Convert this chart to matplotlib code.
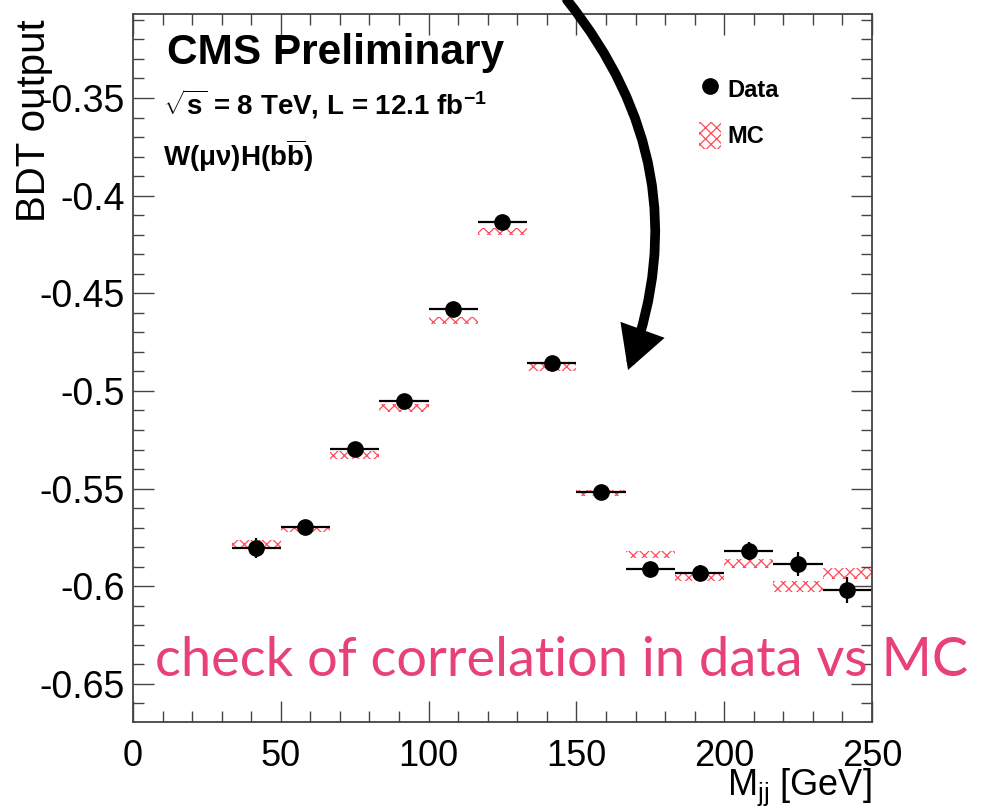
import matplotlib
matplotlib.use('Agg')
import matplotlib.pyplot as plt
from matplotlib.lines import Line2D
from matplotlib.patches import Patch, FancyArrowPatch, ArrowStyle
from matplotlib.ticker import MultipleLocator, FuncFormatter
import numpy as np

# Bins in M_jj [GeV]
bin_centers = [41.67, 58.33, 75.0, 91.67, 108.33, 125.0, 141.67, 158.33, 175.0, 191.67, 208.33, 225.0, 241.67]
bin_halfwidth = 8.333

# Data: mean BDT output per bin
data_y = [-0.5804, -0.5697, -0.5297, -0.5051, -0.4580, -0.4135, -0.4857, -0.5517, -0.5912, -0.5932, -0.5820, -0.5886, -0.6019]
data_err = [0.005, 0.002, 0.002, 0.002, 0.002, 0.002, 0.002, 0.002, 0.002, 0.004, 0.0045, 0.006, 0.0065]

# MC: mean BDT output per bin with uncertainty band
mc_y = [-0.5784, -0.5707, -0.5328, -0.5087, -0.4639, -0.4184, -0.4882, -0.5522, -0.5837, -0.5953, -0.5884, -0.6001, -0.5937]
mc_err = [0.0022, 0.0016, 0.0020, 0.0020, 0.0018, 0.0018, 0.0018, 0.0016, 0.0018, 0.0020, 0.0024, 0.0026, 0.0028]

y_ticks = [-0.65, -0.6, -0.55, -0.5, -0.45, -0.4, -0.35]
x_ticks = [0, 50, 100, 150, 200, 250]

plt.rcParams['font.family'] = ['Liberation Sans', 'DejaVu Sans']
plt.rcParams['mathtext.fontset'] = 'custom'
plt.rcParams['mathtext.rm'] = 'Liberation Sans'
plt.rcParams['mathtext.it'] = 'Liberation Sans:italic'
plt.rcParams['mathtext.bf'] = 'Liberation Sans:bold'
plt.rcParams['hatch.linewidth'] = 0.9

MC_RED = '#ff4a5a'


def main():
    fig = plt.figure(figsize=(9.85, 8.11), dpi=100)
    ax = fig.add_axes([133 / 985, 1 - 722 / 811, 739 / 985, 708 / 811])

    # MC bands
    mc_lo = np.array(mc_y) - np.array(mc_err)
    ax.bar(bin_centers, 2 * np.array(mc_err), bottom=mc_lo, width=2 * bin_halfwidth,
           fill=False, hatch='xxx', edgecolor=MC_RED, linewidth=0)

    # Data points
    ax.errorbar(bin_centers, data_y, xerr=bin_halfwidth, yerr=data_err, fmt='o',
                color='black', ms=11, elinewidth=1.6, capsize=0)

    ax.set_xlim(0, 250)
    ax.set_ylim(-0.6695, -0.307)
    ax.set_xticks(x_ticks)
    ax.set_yticks(y_ticks)
    ax.xaxis.set_minor_locator(MultipleLocator(10))
    ax.yaxis.set_minor_locator(MultipleLocator(0.01))
    ax.yaxis.set_major_formatter(FuncFormatter(lambda v, p: '%g' % round(v, 2)))

    # ROOT style ticks
    ax.tick_params(which='both', direction='in', top=True, right=True, color='#444444', width=1.0)
    ax.tick_params(which='major', length=15)
    ax.tick_params(which='minor', length=8)
    ax.tick_params(axis='x', which='major', labelsize=26, pad=12)
    ax.tick_params(axis='y', which='major', labelsize=27, pad=6)
    for pos in ['right', 'top', 'bottom', 'left']:
        ax.spines[pos].set_color('#444444')
        ax.spines[pos].set_linewidth(1.3)

    ax.set_xlabel(r'M$_{\rm jj}$ [GeV]', fontsize=26, loc='right', labelpad=-5)
    ax.set_ylabel('BDT output', fontsize=29, loc='top')
    ax.yaxis.set_label_coords(-0.108, 0.992)

    # Titles
    ax.text(0.046, 0.93, 'CMS Preliminary', transform=ax.transAxes, fontsize=30.5,
            fontweight='bold', va='baseline')
    ax.text(0.041, 0.858, r'$\sqrt{\mathbf{s}}$ = 8 TeV, L = 12.1 fb$^{\mathbf{-1}}$',
            transform=ax.transAxes, fontsize=20, fontweight='bold', va='baseline')
    ax.text(0.041, 0.786, 'W(μν)H(b' + r'$\overline{\mathbf{b}}$' + ')', transform=ax.transAxes,
            fontsize=20, fontweight='bold', va='baseline')

    # Legend
    handles = [Line2D([], [], marker='o', ls='none', color='black', ms=11),
               Patch(fill=False, hatch='xxx', edgecolor=MC_RED, linewidth=0)]
    ax.legend(handles, ['Data', 'MC'], loc='upper left', bbox_to_anchor=(0.75, 0.93),
              frameon=False, prop={'size': 17, 'weight': 'bold'}, handlelength=0.95,
              handleheight=1.4, labelspacing=0.8, handletextpad=0.25, borderpad=0)

    # Annotation: curved arrow and handwritten note
    arrow = FancyArrowPatch((567 / 985, 1.0), (628 / 985, 1 - 370 / 811),
                            transform=fig.transFigure, connectionstyle='arc3,rad=-0.28',
                            arrowstyle=ArrowStyle('-|>', head_length=20, head_width=11),
                            mutation_scale=1, lw=7, color='black', shrinkA=0, shrinkB=0,
                            joinstyle='miter')
    fig.patches.append(arrow)

    fig.text(155 / 985, 1 - 660 / 811, 'check of correlation in data vs MC', color='#e8417a',
             fontsize=39, family='Lato', va='center', ha='left')

    fig.savefig('out.png', dpi=100)
    return 0


if __name__ == '__main__':
    exit(main())
